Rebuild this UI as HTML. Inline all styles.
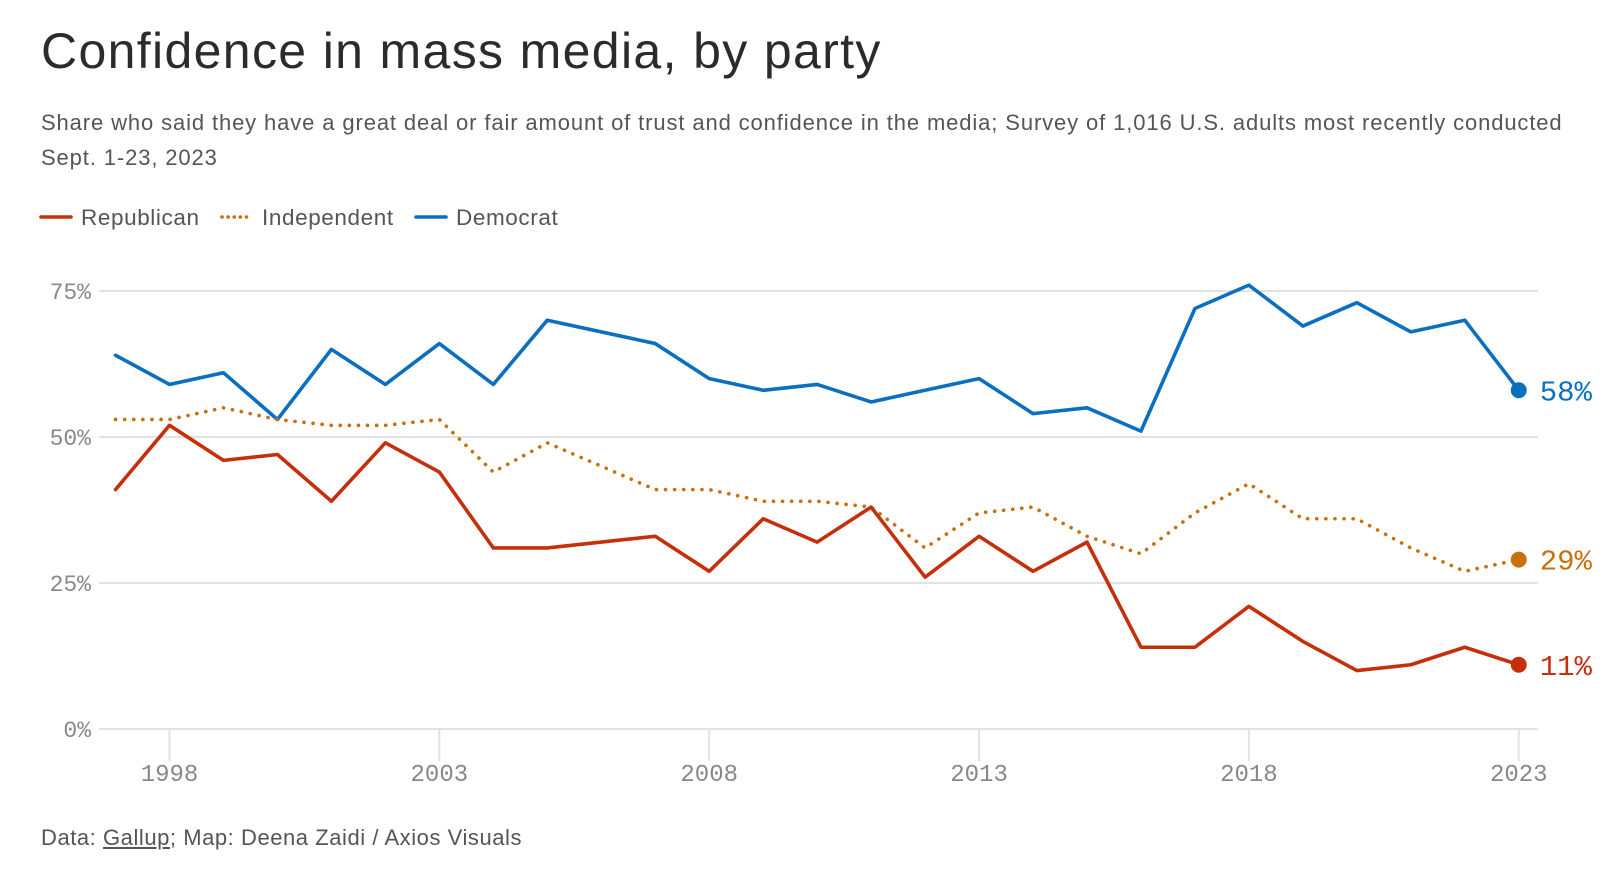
<!DOCTYPE html>
<html><head><meta charset="utf-8"><style>
body{margin:0;width:1612px;height:880px;background:#fff;overflow:hidden;font-family:"Liberation Sans",sans-serif;color:#333}
#title{position:absolute;left:41px;top:22px;font-size:50px;letter-spacing:1.35px;margin:0;font-weight:normal;color:#2b2b2b}
#sub{position:absolute;left:41px;top:105px;width:1570px;font-size:22px;letter-spacing:0.88px;line-height:35px;color:#555;white-space:nowrap}
#foot{position:absolute;left:41px;top:825px;font-size:22px;letter-spacing:0.55px;color:#555}
svg{position:absolute;left:0;top:0}
</style></head><body>
<h1 id="title">Confidence in mass media, by party</h1>
<div id="sub">Share who said they have a great deal or fair amount of trust and confidence in the media; Survey of 1,016 U.S. adults most recently conducted<br>Sept. 1-23, 2023</div>
<div id="foot">Data: <u>Gallup</u>; Map: Deena Zaidi / Axios Visuals</div>
<svg id="chart" width="1612" height="880"></svg>
<script>
const years=[1997,1998,1999,2000,2001,2002,2003,2004,2005,2007,2008,2009,2010,2011,2012,2013,2014,2015,2016,2017,2018,2019,2020,2021,2022,2023];
const dem=[64,59,61,53,65,59,66,59,70,66,60,58,59,56,58,60,54,55,51,72,76,69,73,68,70,58];
const ind=[53,53,55,53,52,52,53,44,49,41,41,39,39,38,31,37,38,33,30,37,42,36,36,31,27,29];
const rep=[41,52,46,47,39,49,44,31,31,33,27,36,32,38,26,33,27,32,14,14,21,15,10,11,14,11];
const yTicks=[0,25,50,75];
const xTicks=[1998,2003,2008,2013,2018,2023];
const NS='http://www.w3.org/2000/svg';
const svg=document.getElementById('chart');
const X=y=>169.5+(y-1998)*53.97;
const Y=v=>729-v*5.84;
function el(t,a,p){const e=document.createElementNS(NS,t);for(const k in a)e.setAttribute(k,a[k]);(p||svg).appendChild(e);return e;}
yTicks.forEach(t=>{
  const g=el('line',{x1:99,x2:1538,y1:Y(t),y2:Y(t),stroke:'#e2e2e2','stroke-width':2});
  
  
  const l=el('text',{x:91,y:Y(t)+8,'text-anchor':'end','font-family':'Liberation Mono, monospace','font-size':23,fill:'#888'});
  l.textContent=t+'%';
  
  
});
xTicks.forEach(t=>{
  const k=el('line',{x1:X(t),x2:X(t),y1:729,y2:761,stroke:'#e2e2e2','stroke-width':2});
  
  
  const l=el('text',{x:X(t),y:781,'text-anchor':'middle','font-family':'Liberation Mono, monospace','font-size':24,fill:'#888'});
  l.textContent=t;
  
  
});
const series=[['democrat',dem,'#0b6fbf',null],['independent',ind,'#c96f0c','0.1 9'],['republican',rep,'#c4300b',null]];
series.forEach(([n,d,c,dash])=>{
  const pts=d.map((v,i)=>X(years[i])+','+Y(v)).join(' ');
  const a={points:pts,fill:'none',stroke:c,'stroke-width':3.6,'stroke-linejoin':'round','stroke-linecap':'round'};
  if(dash)a['stroke-dasharray']=dash;
  const p=el('polyline',a);
  
  
  const last=d[d.length-1],ly=years[years.length-1];
  const dot=el('circle',{cx:X(ly),cy:Y(last),r:8,fill:c});
  
  
  const t=el('text',{x:X(ly)+21,y:Y(last)+10,'font-family':'Liberation Mono, monospace','font-size':29,fill:c});
  t.textContent=last+'%';
  
  
});
const legend=[['Republican','#c4300b',null,41],['Independent','#c96f0c','0.1 6',222],['Democrat','#0b6fbf',null,416]];
legend.forEach(([n,c,dash,x])=>{
  const a={x1:x,x2:x+30,y1:217,y2:217,stroke:c,'stroke-width':3.6,'stroke-linecap':'round'};
  if(dash)a['stroke-dasharray']=dash;
  const s=el('line',a);
  
  
  const t=el('text',{x:x+40,y:225,'font-family':'Liberation Sans, sans-serif','font-size':22.5,'letter-spacing':0.6,fill:'#555'});
  t.textContent=n;
  
  
});
</script>
</body></html>
